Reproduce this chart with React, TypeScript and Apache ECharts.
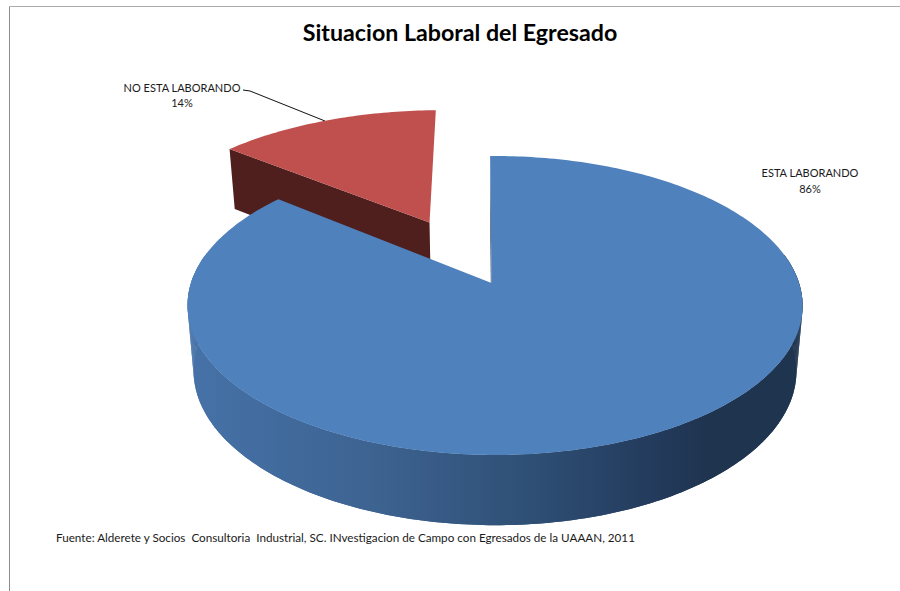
import React, { useEffect, useRef } from "react";
import * as echarts from "echarts";

const titleText = "Situacion Laboral del Egresado";
const sourceText =
  "Fuente: Alderete y Socios  Consultoria  Industrial, SC. INvestigacion de Campo con Egresados de la UAAAN, 2011";
// Drawing order: the exploded slice sits behind the large one.
const categories = ["NO ESTA LABORANDO", "ESTA LABORANDO"];
const values = [14, 86];
const colors = ["#C0504D", "#4F81BD"];
const wallColors = ["#4F1F1E", null];
const explode = [0.49, 0];
const nudgeX = [-0.007, 0];
const radiusX = [1.025, 1];

const FONT = "Lato";
const P = 0.1505;
const Q = -0.0115;
const FIRST_ANGLE = -0.3;

const TOP = { ax: 491.5, ay: 283, rx: 304, ry: 146.1 };
const BOTTOM = { ax: 491.5, ay: 347.4, rx: 298, ry: 151 };

type Plane = typeof TOP;

function project(plane: Plane, s: number, c: number): number[] {
  const d = 1 + P * c + Q * s;
  return [plane.ax + (plane.rx * s) / d, plane.ay - (plane.ry * c) / d];
}

function sliceRange(index: number): [number, number] {
  const total = values.reduce((a, b) => a + b, 0);
  // The large slice (drawn last) starts at the first angle, clockwise.
  const big = (values[1] / total) * 360;
  if (index === 1) return [FIRST_ANGLE, FIRST_ANGLE + big];
  return [FIRST_ANGLE + big, FIRST_ANGLE + 360];
}

function arcAngles(a0: number, a1: number): number[] {
  const out: number[] = [];
  const n = Math.max(2, Math.ceil(Math.abs(a1 - a0)));
  for (let i = 0; i <= n; i++) out.push(((a0 + ((a1 - a0) * i) / n) * Math.PI) / 180);
  return out;
}

const blueWall = {
  type: "linear",
  global: true,
  x: 190,
  y: 0,
  x2: 800,
  y2: 0,
  colorStops: [
    { offset: 0, color: "#4672A8" },
    { offset: 0.3, color: "#3D6391" },
    { offset: 0.55, color: "#2F5076" },
    { offset: 0.78, color: "#22395A" },
    { offset: 0.85, color: "#1F344F" },
    { offset: 1, color: "#1F344F" },
  ],
};

function renderSlice(params: any, api: any) {
  const i = params.dataIndex;
  api.value(0);
  const [a0, a1] = sliceRange(i);
  const mid = (((a0 + a1) / 2) * Math.PI) / 180;
  const ox = explode[i] * Math.sin(mid) + nudgeX[i];
  const oy = explode[i] * Math.cos(mid);
  const wall: any = wallColors[i] || blueWall;

  const angles = arcAngles(a0, a1);
  const onArc = (plane: Plane, t: number) =>
    project(plane, Math.sin(t) * radiusX[i] + ox, Math.cos(t) + oy);
  const topApex = project(TOP, ox, oy);
  const botApex = project(BOTTOM, ox, oy);
  const topArc = angles.map((t) => onArc(TOP, t));
  const botArc = angles.map((t) => onArc(BOTTOM, t));
  const poly = (points: number[][], fill: any) => ({
    type: "polygon",
    shape: { points },
    style: { fill },
    silent: true,
  });

  // The outer wall shows only where it faces the viewer; a quad per step and
  // one band beneath them keep the silhouette filled without seams.
  const frontSteps = angles.slice(1).map((_, k) => k).filter((k) => Math.cos(angles[k]) < 0.2);
  const quads = frontSteps.map((k) =>
    poly([topArc[k], topArc[k + 1], botArc[k + 1], botArc[k]], wall)
  );
  const band = frontSteps.length
    ? [
        poly(
          [
            ...frontSteps.map((k) => topArc[k]),
            ...frontSteps.map((k) => botArc[k]).reverse(),
          ],
          wall
        ),
      ]
    : [];

  return {
    type: "group",
    children: [
      ...band,
      ...quads,
      poly([topApex, topArc[0], botArc[0], botApex], wallColors[i] || "#1F344F"),
      poly([topApex, ...topArc], colors[i]),
    ],
  };
}

function labelGraphic(text: string, x: number, y: number) {
  return {
    type: "text",
    x,
    y,
    silent: true,
    style: {
      text,
      fill: "#1a1a1a",
      font: `11px ${FONT}`,
      align: "center",
      verticalAlign: "middle",
    },
  };
}

export default function App() {
  const ref = useRef<HTMLDivElement>(null);
  useEffect(() => {
    document.body.style.margin = "0";
    const chart = echarts.init(ref.current!, undefined, { renderer: "svg" });
    chart.setOption({
      animation: false,
      backgroundColor: "#ffffff",
      title: {
        text: titleText,
        left: 455,
        top: 15,
        textAlign: "center",
        textStyle: { fontFamily: FONT, fontSize: 23.2, fontWeight: "bold", color: "#000000" },
      },
      series: [
        {
          type: "custom",
          coordinateSystem: "none",
          renderItem: renderSlice,
          data: values.map((v) => [v]),
          silent: true,
        },
      ],
      graphic: [
        {
          type: "line",
          silent: true,
          shape: { x1: 9.5, y1: 6.5, x2: 900, y2: 6.5 },
          style: { stroke: "#ababab", lineWidth: 1 },
        },
        {
          type: "line",
          silent: true,
          shape: { x1: 9.5, y1: 6.5, x2: 9.5, y2: 591 },
          style: { stroke: "#8c8c8c", lineWidth: 1 },
        },
        {
          type: "polyline",
          silent: true,
          shape: { points: [[243, 90], [250, 91], [325, 121]] },
          style: { stroke: "#111111", lineWidth: 1, fill: "none" },
        },
        labelGraphic(categories[0], 182, 87),
        labelGraphic(`${values[0]}%`, 182, 102),
        labelGraphic(categories[1], 810, 172),
        labelGraphic(`${values[1]}%`, 810, 188.5),
        {
          type: "text",
          x: 56,
          y: 537,
          silent: true,
          style: {
            text: sourceText,
            fill: "#1a1a1a",
            font: `11.7px ${FONT}`,
            align: "left",
            verticalAlign: "middle",
          },
        },
      ],
    });
    return () => chart.dispose();
  }, []);
  return <div ref={ref} style={{ width: 900, height: 591 }} />;
}
